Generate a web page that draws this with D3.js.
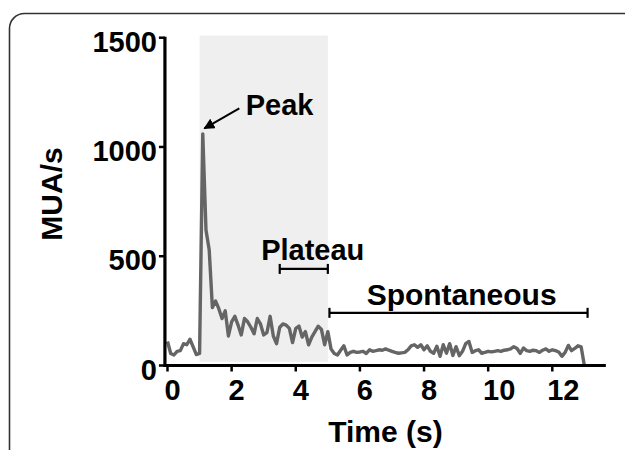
<!DOCTYPE html>
<html>
<head>
<meta charset="utf-8">
<script src="https://cdn.jsdelivr.net/npm/d3@7"></script>
<style>
  body { margin: 0; background: #fff; }
  svg text { font-family: "Liberation Sans", Arial, sans-serif; font-weight: bold; fill: #000; }
</style>
</head>
<body>
<svg id="chart" width="625" height="450"></svg>
<script>
// MUA rate, one value every 0.1 s from 0 to 13 s
const timeStep = 0.1;
const muaRate = [
  110, 55, 48, 65, 68, 100, 95, 120, 85, 50,
  55, 1060, 620, 530, 265, 295, 260, 215, 250, 135,
  200, 225, 185, 140, 215, 200, 175, 145, 215, 190,
  140, 150, 225, 135, 100, 175, 190, 185, 170, 105,
  170, 180, 130, 155, 95, 130, 155, 180, 165, 95,
  155, 75, 55, 48, 70, 90, 48, 60, 65, 60,
  62, 65, 55, 72, 65, 68, 72, 70, 76, 70,
  65, 60, 56, 58, 60, 72, 90, 95, 83, 95,
  72, 90, 65, 56, 88, 42, 95, 56, 100, 46,
  86, 45, 65, 100, 110, 60, 68, 72, 56, 60,
  65, 62, 65, 68, 65, 70, 72, 76, 86, 78,
  56, 80, 68, 65, 70, 68, 60, 70, 76, 65,
  72, 68, 62, 42, 60, 92, 68, 78, 90, 85,
  0
];
const xTicks = [0, 2, 4, 6, 8, 10, 12];
const yTicks = [0, 500, 1000, 1500];
const stimWindow = [1, 5];          // shaded stimulus period (s)
const plateauRange = [3.5, 5];      // plateau bracket (s)
const spontRange = [5.05, 13.1];    // spontaneous bracket (s)

const svg = d3.select("#chart");

// rounded frame around the panel
svg.append("rect")
  .attr("x", 9.5).attr("y", 13.5)
  .attr("width", 640).attr("height", 470)
  .attr("rx", 15).attr("ry", 15)
  .attr("fill", "none")
  .attr("stroke", "#333")
  .attr("stroke-width", 1.6);

const x = d3.scaleLinear().domain([0, 12]).range([167.5, 552.3]);
const y = d3.scaleLinear().domain([0, 1500]).range([365.5, 37.7]);

// stimulus shading
svg.append("rect")
  .attr("x", x(stimWindow[0]))
  .attr("y", y(1510))
  .attr("width", x(stimWindow[1]) - x(stimWindow[0]))
  .attr("height", y(17) - y(1510))
  .attr("fill", "#efefef");

// trace
const points = muaRate.map((v, i) => [i * timeStep, v]);
const line = d3.line()
  .x(d => x(d[0]))
  .y(d => y(d[1]));

svg.append("path")
  .datum(points)
  .attr("d", line)
  .attr("fill", "none")
  .attr("stroke", "#656565")
  .attr("stroke-width", 3.4)
  .attr("stroke-linejoin", "round");

// axes
const xAxis = svg.append("g").attr("transform", `translate(0, ${y(0)})`);
xAxis.append("line")
  .attr("x1", x(-0.08)).attr("x2", x(13.67))
  .attr("stroke", "#000").attr("stroke-width", 3.2);
xAxis.selectAll(".tick")
  .data(xTicks)
  .enter().append("line")
  .attr("x1", d => x(d)).attr("x2", d => x(d))
  .attr("y1", 0).attr("y2", 6)
  .attr("stroke", "#000").attr("stroke-width", 2.5);
xAxis.selectAll(".lbl")
  .data(xTicks)
  .enter().append("text")
  .attr("x", d => x(d) + (d >= 10 ? 11 : 5))
  .attr("y", 34.5)
  .attr("text-anchor", "middle")
  .style("font-size", "29px")
  .text(d => d);

const yAxis = svg.append("g").attr("transform", `translate(${x(-0.08)}, 0)`);
yAxis.append("line")
  .attr("y1", y(0) + 1.6).attr("y2", y(1500) - 1)
  .attr("stroke", "#000").attr("stroke-width", 3.2);
yAxis.selectAll(".tick")
  .data(yTicks)
  .enter().append("line")
  .attr("x1", 0).attr("x2", -6)
  .attr("y1", d => y(d)).attr("y2", d => y(d))
  .attr("stroke", "#000").attr("stroke-width", 2.5);
yAxis.selectAll(".lbl")
  .data(yTicks)
  .enter().append("text")
  .attr("x", -8)
  .attr("y", d => y(d) + 14)
  .attr("text-anchor", "end")
  .style("font-size", "29px")
  .text(d => d);

// axis titles
svg.append("text")
  .attr("transform", `translate(61.5, 194) rotate(-90)`)
  .attr("text-anchor", "middle")
  .style("font-size", "30px")
  .text("MUA/s");

svg.append("text")
  .attr("x", 385.5).attr("y", 442)
  .attr("text-anchor", "middle")
  .style("font-size", "30px")
  .text("Time (s)");

// annotations
svg.append("defs").append("marker")
  .attr("id", "arrow")
  .attr("viewBox", "0 0 10 10")
  .attr("refX", 9).attr("refY", 5)
  .attr("markerWidth", 5.5).attr("markerHeight", 5.5)
  .attr("markerUnits", "strokeWidth")
  .attr("orient", "auto")
  .append("path")
  .attr("d", "M0,0 L10,5 L0,10 z")
  .attr("fill", "#000");

svg.append("line")
  .attr("x1", x(2.24)).attr("y1", y(1177))
  .attr("x2", x(1.15)).attr("y2", y(1085))
  .attr("stroke", "#000").attr("stroke-width", 2)
  .attr("marker-end", "url(#arrow)");

svg.append("text")
  .attr("x", x(2.44)).attr("y", y(1146))
  .style("font-size", "29px")
  .text("Peak");

function bracket(range, v) {
  const g = svg.append("g")
    .attr("stroke", "#000").attr("stroke-width", 2.2);
  g.append("line")
    .attr("x1", x(range[0])).attr("x2", x(range[1]))
    .attr("y1", y(v)).attr("y2", y(v));
  range.forEach(t => {
    g.append("line")
      .attr("x1", x(t)).attr("x2", x(t))
      .attr("y1", y(v) - 5).attr("y2", y(v) + 5);
  });
}

bracket(plateauRange, 442);
svg.append("text")
  .attr("x", x(2.92)).attr("y", y(483))
  .style("font-size", "29px")
  .text("Plateau");

bracket(spontRange, 241);
svg.append("text")
  .attr("x", x(6.21)).attr("y", y(277))
  .style("font-size", "30px")
  .text("Spontaneous");
</script>
</body>
</html>
